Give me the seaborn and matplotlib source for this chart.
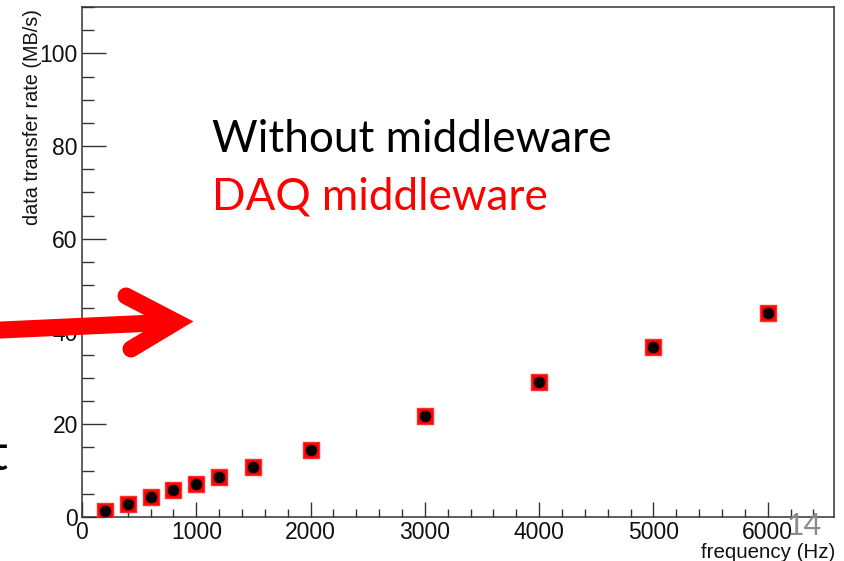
import matplotlib
matplotlib.use("Agg")
import matplotlib.pyplot as plt
from matplotlib.lines import Line2D
from matplotlib.ticker import MultipleLocator
import seaborn as sns
import pandas as pd

# ---- data ----
frequency_hz = [200, 400, 600, 800, 1000, 1200, 1500, 2000, 3000, 4000, 5000, 6000]
rate_daq_middleware = [1.4, 2.85, 4.3, 5.8, 7.2, 8.7, 10.8, 14.5, 21.8, 29.1, 36.7, 44.1]
rate_without_middleware = [1.4, 2.85, 4.3, 5.8, 7.2, 8.7, 10.8, 14.5, 21.8, 29.1, 36.7, 44.1]
x_label = "frequency (Hz)"
y_label = "data transfer rate (MB/s)"
legend_texts = ["Without middleware", "DAQ middleware"]
page_number = "14"

sns.set_theme(style="white")
plt.rcParams["font.family"] = ["Liberation Sans", "DejaVu Sans"]

W, H = 845, 561
fig = plt.figure(figsize=(W / 100, H / 100), dpi=100)
fig.patch.set_facecolor("white")

def px(x, y):
    return x / W, 1 - y / H

L, R, T, B = 82, 834, 7, 517
ax = fig.add_axes([L / W, 1 - B / H, (R - L) / W, (B - T) / H])
ax.set_facecolor("white")

df_daq = pd.DataFrame({"f": frequency_hz, "r": rate_daq_middleware})
df_wo = pd.DataFrame({"f": frequency_hz, "r": rate_without_middleware})

sns.scatterplot(data=df_daq, x="f", y="r", marker="s", s=125, color="#ff0000",
                edgecolor="#ff3030", linewidth=1.0, ax=ax, legend=False, zorder=3)
sns.scatterplot(data=df_wo, x="f", y="r", marker="o", s=60, color="black",
                edgecolor="black", linewidth=0.5, ax=ax, legend=False, zorder=4)

ax.set_xlim(0, 6580)
ax.set_ylim(0, 110)
ax.xaxis.set_major_locator(MultipleLocator(1000))
ax.xaxis.set_minor_locator(MultipleLocator(200))
ax.yaxis.set_major_locator(MultipleLocator(20))
ax.yaxis.set_minor_locator(MultipleLocator(5))

for s in ax.spines.values():
    s.set_color("#333333")
    s.set_linewidth(1.1)
    s.set_visible(True)

ax.tick_params(axis="x", which="major", direction="in", length=11, width=1.0,
               color="#333333", labelsize=16.5, pad=3, labelcolor="#111111",
               bottom=True, top=False)
ax.tick_params(axis="x", which="minor", direction="in", length=6, width=1.0,
               color="#333333", bottom=True, top=False)
ax.tick_params(axis="y", which="major", direction="in", length=17, width=1.0,
               color="#333333", labelsize=16.5, pad=3, labelcolor="#111111",
               left=True, right=False)
ax.tick_params(axis="y", which="minor", direction="in", length=8.5, width=1.0,
               color="#333333", left=True, right=False)

ax.set_xlabel("")
ax.set_ylabel("")
fig.text(*px(835, 558), x_label, ha="right", va="baseline", fontsize=14.8,
         color="#111111")
fig.text(*px(33, 9), y_label, ha="center", va="top", rotation=90,
         fontsize=14.3, color="#111111")

# slide overlays
fig.text(*px(212, 152), legend_texts[0], ha="left", va="baseline",
         fontsize=31.8, color="black", family=["Lato", "DejaVu Sans"])
fig.text(*px(212, 209), legend_texts[1], ha="left", va="baseline",
         fontsize=31.8, color="#ff0000", family=["Lato", "DejaVu Sans"])
fig.text(*px(8, 470), "t", ha="right", va="baseline", fontsize=36,
         color="black", family=["Lato", "DejaVu Sans"])
fig.text(*px(787, 535), page_number, ha="left", va="baseline", fontsize=22,
         color="#8c8c8c", family=["Lato", "DejaVu Sans"])

lw = 17 * 72 / 100
shaft = Line2D([px(-10, 330.5)[0], px(176, 322)[0]],
               [px(-10, 330.5)[1], px(176, 322)[1]],
               transform=fig.transFigure, color="#ff0000", lw=lw,
               solid_capstyle="butt", zorder=10)
head_pts = [px(126, 296), px(176, 322), px(131, 349)]
head = Line2D([p[0] for p in head_pts], [p[1] for p in head_pts],
              transform=fig.transFigure, color="#ff0000", lw=lw,
              solid_capstyle="round", solid_joinstyle="miter", zorder=10)
fig.add_artist(shaft)
fig.add_artist(head)

fig.savefig("out.png", dpi=100)
